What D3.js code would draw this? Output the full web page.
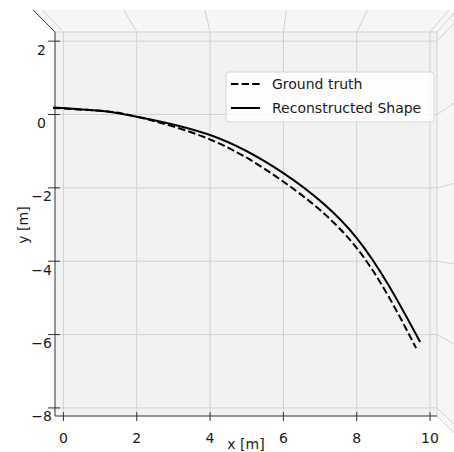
<!DOCTYPE html>
<html>
<head>
<meta charset="utf-8">
<script src="https://cdn.jsdelivr.net/npm/d3@7"></script>
<style>
  body { margin: 0; background: #fff; }
  text { font-family: "DejaVu Sans", sans-serif; fill: #1a1a1a; }
</style>
</head>
<body>
<div id="chart"></div>
<script>
const w = 454;
const h = 452;

// tick values
const xTicks = [0, 2, 4, 6, 8, 10];
const yTicks = [2, 0, -2, -4, -6, -8];

// curves
const truthX = [-0.28, 1.0, 2.0, 4.0, 6.0, 8.0, 9.62];
const truthY = [0.18, 0.1, -0.06, -0.68, -1.83, -3.64, -6.37];
const reconX = [-0.28, 1.0, 2.0, 4.0, 6.0, 8.0, 9.73];
const reconY = [0.19, 0.1, -0.06, -0.56, -1.60, -3.37, -6.2];

const legendLabels = ["Ground truth", "Reconstructed Shape"];

const x = d3.scaleLinear().domain([-0.23, 10.19]).range([55, 437]);
const y = d3.scaleLinear().domain([-8.22, 2.25]).range([416, 32]);

// perspective of the wall tops
const cx = 256, cy = 234, s = 1.109;
const up = (px, py) => [cx + (px - cx) * s, cy + (py - cy) * s];

const svg = d3.select("#chart").append("svg").attr("width", w).attr("height", h);

const x0 = x.range()[0], x1 = x.range()[1];
const y0 = y.range()[1], y1 = y.range()[0];

//panes
svg.append("polygon")
    .attr("points", [[x0, y0], [x1, y0], up(x1, y0), up(x0, y0)].join(" "))
    .style("fill", "#f6f6f6");
svg.append("polygon")
    .attr("points", [[x1, y0], [x1, y1], up(x1, y1), up(x1, y0)].join(" "))
    .style("fill", "#f6f6f6");
svg.append("rect")
    .attr("x", x0).attr("y", y0)
    .attr("width", x1 - x0).attr("height", y1 - y0)
    .style("fill", "#f2f2f2");

//grid on floor and walls
const grid = svg.append("g").style("stroke", "#d2d2d2").style("stroke-width", 1).style("fill", "none");
xTicks.forEach(t => {
    grid.append("line").attr("x1", x(t)).attr("y1", y0).attr("x2", x(t)).attr("y2", y1);
    const p = up(x(t), y0);
    grid.append("line").attr("x1", x(t)).attr("y1", y0).attr("x2", p[0]).attr("y2", p[1]);
});
yTicks.forEach(t => {
    grid.append("line").attr("x1", x0).attr("y1", y(t)).attr("x2", x1).attr("y2", y(t));
    const p = up(x1, y(t));
    grid.append("line").attr("x1", x1).attr("y1", y(t)).attr("x2", p[0]).attr("y2", p[1]);
});
// pane edges
grid.append("line").attr("x1", x0).attr("y1", y0).attr("x2", x1).attr("y2", y0);
grid.append("line").attr("x1", x1).attr("y1", y0).attr("x2", x1).attr("y2", y1);
[[x1, y0], [x1, y1]].forEach(c => {
    const p = up(c[0], c[1]);
    grid.append("line").attr("x1", c[0]).attr("y1", c[1]).attr("x2", p[0]).attr("y2", p[1]);
});

//axis lines
const axisCol = "#333";
const corner = up(x0, y0);
svg.append("path")
    .attr("d", "M" + corner + "L" + [x0, y0] + "L" + [x0, y1] + "L" + [x1, y1])
    .style("fill", "none").style("stroke", axisCol).style("stroke-width", 1);

//ticks
svg.selectAll(".xt").data(xTicks).enter().append("line")
    .attr("x1", d => x(d)).attr("x2", d => x(d))
    .attr("y1", y1 - 4).attr("y2", y1 + 5)
    .style("stroke", axisCol);
svg.selectAll(".xl").data(xTicks).enter().append("text")
    .attr("x", d => x(d)).attr("y", 443)
    .attr("text-anchor", "middle").style("font-size", "14px")
    .text(d3.format("d"));

svg.selectAll(".yt").data(yTicks).enter().append("line")
    .attr("x1", x0 - 7).attr("x2", x0 + 5)
    .attr("y1", d => y(d)).attr("y2", d => y(d))
    .style("stroke", axisCol);
svg.selectAll(".yl").data(yTicks).enter().append("text")
    .attr("x", 41.5).attr("y", d => y(d) + 13.5)
    .attr("text-anchor", "middle").style("font-size", "14px")
    .text(d3.format("d"));

svg.append("text").attr("x", 246).attr("y", 449)
    .attr("text-anchor", "middle").style("font-size", "14px").text("x [m]");
svg.append("text").attr("transform", "translate(28,225) rotate(-90)")
    .attr("text-anchor", "middle").style("font-size", "14px").text("y [m]");

//curves
const line = d3.line().x(d => x(d[0])).y(d => y(d[1])).curve(d3.curveNatural);
svg.append("path")
    .datum(d3.zip(truthX, truthY))
    .attr("d", line)
    .style("fill", "none").style("stroke", "#000").style("stroke-width", 2)
    .style("stroke-dasharray", "7.4,3.2");
svg.append("path")
    .datum(d3.zip(reconX, reconY))
    .attr("d", line)
    .style("fill", "none").style("stroke", "#000").style("stroke-width", 2);

//legend
const lg = svg.append("g").attr("transform", "translate(226,72)");
lg.append("rect").attr("width", 208).attr("height", 50).attr("rx", 3)
    .style("fill", "#fff").style("fill-opacity", 0.8)
    .style("stroke", "#d6d6d6").style("stroke-width", 1);
legendLabels.forEach((lab, i) => {
    const yy = 12 + i * 24;
    lg.append("line").attr("x1", 5).attr("x2", 34).attr("y1", yy).attr("y2", yy)
        .style("stroke", "#000").style("stroke-width", 2)
        .style("stroke-dasharray", i === 0 ? "7.4,3.2" : null);
    lg.append("text").attr("x", 46).attr("y", yy + 5)
        .style("font-size", "14px").text(lab);
});
</script>
</body>
</html>
